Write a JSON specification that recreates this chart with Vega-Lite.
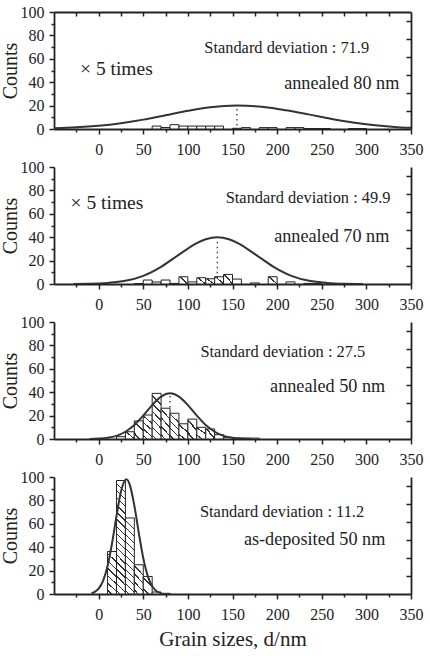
{
"$schema": "https://vega.github.io/schema/vega-lite/v6.json",
"background": "white",
"padding": {"left": 0, "top": 4, "right": 5, "bottom": 5},
"spacing": 2,
"config": {
  "font": "Liberation Serif",
  "view": {"stroke": null},
  "axis": {"grid": false, "domain": true, "ticks": true, "labelFont": "Liberation Serif", "titleFont": "Liberation Serif", "labelFontSize": 16, "titleFontSize": 20, "titleFontWeight": "normal", "labelColor": "#222", "titleColor": "#222", "domainColor": "#222", "tickColor": "#222", "domainWidth": 1.8, "tickWidth": 1.5, "zindex": 2},
  "text": {"font": "Liberation Serif", "color": "#222"}
},
"datasets": {
  "bars1": [{"b0":60,"b1":70,"count":2.5},{"b0":70,"b1":80,"count":1.3},{"b0":80,"b1":90,"count":3.7},{"b0":90,"b1":100,"count":2.5},{"b0":100,"b1":110,"count":2.5},{"b0":110,"b1":120,"count":2.5},{"b0":120,"b1":130,"count":2.5},{"b0":130,"b1":140,"count":2.5},{"b0":150,"b1":160,"count":0.6},{"b0":160,"b1":170,"count":1.2},{"b0":180,"b1":190,"count":1.2},{"b0":190,"b1":200,"count":1.2},{"b0":210,"b1":220,"count":1.2},{"b0":220,"b1":230,"count":1.2},{"b0":230,"b1":240,"count":0.4},{"b0":240,"b1":250,"count":0.4},{"b0":250,"b1":260,"count":0.4},{"b0":280,"b1":290,"count":0.4},{"b0":290,"b1":300,"count":0.4}],
  "bars2": [{"b0":40,"b1":50,"count":0.3},{"b0":50,"b1":60,"count":3.4},{"b0":60,"b1":70,"count":1.7},{"b0":70,"b1":80,"count":3.4},{"b0":80,"b1":90,"count":0.5},{"b0":90,"b1":100,"count":6.2},{"b0":100,"b1":110,"count":1.8},{"b0":110,"b1":120,"count":5.4},{"b0":120,"b1":130,"count":4.5},{"b0":130,"b1":140,"count":6.2},{"b0":140,"b1":150,"count":8.2},{"b0":150,"b1":160,"count":4.2},{"b0":170,"b1":180,"count":0.9},{"b0":190,"b1":200,"count":6.2},{"b0":210,"b1":220,"count":1.8},{"b0":230,"b1":240,"count":0.5},{"b0":240,"b1":250,"count":0.5}],
  "bars3": [{"b0":20,"b1":30,"count":2},{"b0":30,"b1":40,"count":6.2},{"b0":40,"b1":50,"count":15.5},{"b0":50,"b1":60,"count":20.5},{"b0":60,"b1":70,"count":39},{"b0":70,"b1":80,"count":26.3},{"b0":80,"b1":90,"count":22},{"b0":90,"b1":100,"count":13},{"b0":100,"b1":110,"count":17},{"b0":110,"b1":120,"count":10},{"b0":120,"b1":130,"count":8.6},{"b0":130,"b1":140,"count":3.7},{"b0":140,"b1":150,"count":1.4},{"b0":150,"b1":160,"count":0.8},{"b0":160,"b1":170,"count":0.8},{"b0":170,"b1":180,"count":0.8}],
  "bars4": [{"b0":10,"b1":20,"count":36.3},{"b0":20,"b1":30,"count":97},{"b0":30,"b1":40,"count":65},{"b0":40,"b1":50,"count":25},{"b0":50,"b1":60,"count":15},{"b0":60,"b1":70,"count":1.7},{"b0":70,"b1":80,"count":0.6}],
  "curve1": [{"x":-50,"y":0.6},{"x":-25,"y":1.4},{"x":0,"y":2.8},{"x":25,"y":5},{"x":50,"y":8},{"x":75,"y":11.8},{"x":100,"y":15.6},{"x":125,"y":18.6},{"x":155,"y":20},{"x":185,"y":18.8},{"x":210,"y":16},{"x":235,"y":12.5},{"x":260,"y":8.8},{"x":285,"y":5.6},{"x":310,"y":3.2},{"x":335,"y":1.6},{"x":350,"y":1.0}],
  "curve2": [{"x":-28,"y":0.1},{"x":-10,"y":0.23},{"x":10,"y":0.9},{"x":30,"y":2.7},{"x":50,"y":7},{"x":70,"y":14.7},{"x":90,"y":25.1},{"x":110,"y":35},{"x":120,"y":38.3},{"x":133,"y":40},{"x":146,"y":38.3},{"x":156,"y":35},{"x":176,"y":25.1},{"x":196,"y":14.7},{"x":216,"y":7},{"x":236,"y":2.7},{"x":256,"y":0.9},{"x":276,"y":0.23},{"x":296,"y":0.05}],
  "curve3": [{"x":-10,"y":0.1},{"x":0,"y":0.34},{"x":10,"y":1},{"x":20,"y":2.7},{"x":30,"y":6.2},{"x":40,"y":11.9},{"x":50,"y":20},{"x":60,"y":29},{"x":70,"y":36.2},{"x":80,"y":39},{"x":90,"y":36.2},{"x":100,"y":29},{"x":110,"y":20},{"x":120,"y":11.9},{"x":130,"y":6.2},{"x":140,"y":2.7},{"x":150,"y":1},{"x":160,"y":0.34},{"x":170,"y":0.1}],
  "curve4": [{"x":-8,"y":0.75},{"x":-5,"y":1.5},{"x":0,"y":4.5},{"x":5,"y":11.2},{"x":10,"y":23.9},{"x":15,"y":43.2},{"x":20,"y":66.5},{"x":25,"y":87.3},{"x":31,"y":98},{"x":35,"y":93.1},{"x":40,"y":75.6},{"x":45,"y":52.3},{"x":50,"y":30.8},{"x":55,"y":15.5},{"x":60,"y":6.6},{"x":65,"y":2.4},{"x":70,"y":0.75}],
  "rule1": [{"x":155,"y":3,"y2":17}],
  "rule2": [{"x":133,"y":5,"y2":39}],
  "rule3": [{"x":80,"y":27,"y2":38}]
},
"vconcat": [
{
  "width": 357, "height": 117,
  "resolve": {"axis": {"x": "independent", "y": "independent"}},
  "layer": [
    {"data": {"name": "bars1"},
     "mark": {"type": "bar", "fill": "#fff", "stroke": "#222", "strokeWidth": 1},
     "encoding": {
       "x": {"field": "b0", "type": "quantitative", "scale": {"domain": [-50, 350], "nice": false, "zero": false},
             "axis": {"orient": "bottom", "values": [0,50,100,150,200,250,300,350], "tickSize": 5, "labelFlush": false, "labelOverlap": false, "labelPadding": 7, "title": null}},
       "x2": {"field": "b1"},
       "y": {"field": "count", "type": "quantitative", "scale": {"domain": [0, 100], "nice": false},
             "axis": {"orient": "left", "values": [0,20,40,60,80,100], "tickSize": 5, "labelOverlap": false, "labelPadding": 5, "title": "Counts", "titlePadding": 0}},
       "y2": {"datum": 0}
     }},
    {"data": {"name": "curve1"},
     "mark": {"type": "line", "stroke": "#333", "strokeWidth": 2, "interpolate": "monotone", "clip": true},
     "encoding": {
       "x": {"field": "x", "type": "quantitative", "scale": {"domain": [-50, 350], "nice": false, "zero": false},
             "axis": {"orient": "bottom", "values": [-25,25,75,125,175,225,275,325], "labels": false, "tickSize": 3, "domain": false, "title": null}},
       "y": {"field": "y", "type": "quantitative", "scale": {"domain": [0, 100], "nice": false},
             "axis": {"orient": "left", "values": [10,30,50,70,90], "labels": false, "tickSize": 3, "domain": false, "title": null}}
     }},
    {"data": {"name": "rule1"},
     "mark": {"type": "rule", "stroke": "#333", "strokeWidth": 1.3, "strokeDash": [1.5, 3.5]},
     "encoding": {
       "x": {"field": "x", "type": "quantitative", "scale": {"domain": [-50, 350], "nice": false, "zero": false},
             "axis": {"orient": "top", "values": [-25,0,25,50,75,100,125,150,175,200,225,250,275,300,325], "labels": false, "tickSize": -4, "title": null}},
       "y": {"field": "y", "type": "quantitative", "scale": {"domain": [0, 100], "nice": false},
             "axis": {"orient": "right", "values": [15.4,30.8,46.2,61.6,77,92.4], "labels": false, "tickSize": -5, "title": null}},
       "y2": {"field": "y2"}
     }},
    {"data": {"values": [{}]}, "mark": {"type": "text", "text": "Standard deviation : 71.9", "fontSize": 16.4, "align": "center", "baseline": "alphabetic"},
     "encoding": {"x": {"datum": 210.7, "type": "quantitative", "axis": null}, "y": {"datum": 64.7, "type": "quantitative", "axis": null}}},
    {"data": {"values": [{}]}, "mark": {"type": "text", "text": "annealed 80 nm", "fontSize": 18.2, "align": "center", "baseline": "alphabetic"},
     "encoding": {"x": {"datum": 272.4, "type": "quantitative", "axis": null}, "y": {"datum": 34.2, "type": "quantitative", "axis": null}}},
    {"data": {"values": [{}]}, "mark": {"type": "text", "text": "× 5 times", "fontSize": 19.5, "align": "center", "baseline": "alphabetic"},
     "encoding": {"x": {"datum": 19.9, "type": "quantitative", "axis": null}, "y": {"datum": 46, "type": "quantitative", "axis": null}}}
  ]
},
{
  "width": 357, "height": 117,
  "resolve": {"axis": {"x": "independent", "y": "independent"}},
  "layer": [
    {"data": {"name": "bars2"},
     "mark": {"type": "bar", "fill": "#fff", "stroke": "#222", "strokeWidth": 1},
     "encoding": {
       "x": {"field": "b0", "type": "quantitative", "scale": {"domain": [-50, 350], "nice": false, "zero": false},
             "axis": {"orient": "bottom", "values": [0,50,100,150,200,250,300,350], "tickSize": 5, "labelFlush": false, "labelOverlap": false, "labelPadding": 7, "title": null}},
       "x2": {"field": "b1"},
       "y": {"field": "count", "type": "quantitative", "scale": {"domain": [0, 100], "nice": false},
             "axis": {"orient": "left", "values": [0,20,40,60,80,100], "tickSize": 5, "labelOverlap": false, "labelPadding": 5, "title": "Counts", "titlePadding": 0}},
       "y2": {"datum": 0},
       "fill": {"condition": [
         {"test": "datum.count >= 4.4", "value": {"gradient": "linear", "x1": 0, "y1": 1, "x2": 1.1, "y2": 0, "stops": [{"offset":0,"color":"#fff"},{"offset":0.45,"color":"#fff"},{"offset":0.45,"color":"#333"},{"offset":0.55,"color":"#333"},{"offset":0.55,"color":"#fff"},{"offset":1,"color":"#fff"}]}}
       ], "value": "#fff"}
     }},
    {"data": {"name": "curve2"},
     "mark": {"type": "line", "stroke": "#333", "strokeWidth": 2, "interpolate": "monotone", "clip": true},
     "encoding": {
       "x": {"field": "x", "type": "quantitative", "scale": {"domain": [-50, 350], "nice": false, "zero": false},
             "axis": {"orient": "bottom", "values": [-25,25,75,125,175,225,275,325], "labels": false, "tickSize": 3, "domain": false, "title": null}},
       "y": {"field": "y", "type": "quantitative", "scale": {"domain": [0, 100], "nice": false},
             "axis": {"orient": "left", "values": [10,30,50,70,90], "labels": false, "tickSize": 3, "domain": false, "title": null}}
     }},
    {"data": {"name": "rule2"},
     "mark": {"type": "rule", "stroke": "#333", "strokeWidth": 1.3, "strokeDash": [1.5, 3.5]},
     "encoding": {
       "x": {"field": "x", "type": "quantitative", "scale": {"domain": [-50, 350], "nice": false, "zero": false}, "axis": null},
       "y": {"field": "y", "type": "quantitative", "scale": {"domain": [0, 100], "nice": false},
             "axis": {"orient": "right", "values": [15.4,30.8,46.2,61.6,77,92.4], "labels": false, "tickSize": -5, "title": null}},
       "y2": {"field": "y2"}
     }},
    {"data": {"values": [{}]}, "mark": {"type": "text", "text": "Standard deviation : 49.9", "fontSize": 16.4, "align": "center", "baseline": "alphabetic"},
     "encoding": {"x": {"datum": 234.7, "type": "quantitative", "axis": null}, "y": {"datum": 69, "type": "quantitative", "axis": null}}},
    {"data": {"values": [{}]}, "mark": {"type": "text", "text": "annealed 70 nm", "fontSize": 18.2, "align": "center", "baseline": "alphabetic"},
     "encoding": {"x": {"datum": 261.2, "type": "quantitative", "axis": null}, "y": {"datum": 35.8, "type": "quantitative", "axis": null}}},
    {"data": {"values": [{}]}, "mark": {"type": "text", "text": "× 5 times", "fontSize": 19.5, "align": "center", "baseline": "alphabetic"},
     "encoding": {"x": {"datum": 9.3, "type": "quantitative", "axis": null}, "y": {"datum": 64, "type": "quantitative", "axis": null}}}
  ]
},
{
  "width": 357, "height": 117,
  "resolve": {"axis": {"x": "independent", "y": "independent"}},
  "layer": [
    {"data": {"name": "bars3"},
     "mark": {"type": "bar", "fill": "#fff", "stroke": "#222", "strokeWidth": 1},
     "encoding": {
       "x": {"field": "b0", "type": "quantitative", "scale": {"domain": [-50, 350], "nice": false, "zero": false},
             "axis": {"orient": "bottom", "values": [0,50,100,150,200,250,300,350], "tickSize": 5, "labelFlush": false, "labelOverlap": false, "labelPadding": 7, "title": null}},
       "x2": {"field": "b1"},
       "y": {"field": "count", "type": "quantitative", "scale": {"domain": [0, 100], "nice": false},
             "axis": {"orient": "left", "values": [0,20,40,60,80,100], "tickSize": 5, "labelOverlap": false, "labelPadding": 5, "title": "Counts", "titlePadding": 0}},
       "y2": {"datum": 0},
       "fill": {"condition": [
         {"test": "datum.count >= 30", "value": {"gradient": "linear", "x1": 0, "y1": 1, "x2": 0.2, "y2": 0, "stops": [{"offset":0,"color":"#fff"},{"offset":0.0667,"color":"#fff"},{"offset":0.0667,"color":"#333"},{"offset":0.1,"color":"#333"},{"offset":0.1,"color":"#fff"},{"offset":0.2333,"color":"#fff"},{"offset":0.2333,"color":"#333"},{"offset":0.2667,"color":"#333"},{"offset":0.2667,"color":"#fff"},{"offset":0.4,"color":"#fff"},{"offset":0.4,"color":"#333"},{"offset":0.4333,"color":"#333"},{"offset":0.4333,"color":"#fff"},{"offset":0.5667,"color":"#fff"},{"offset":0.5667,"color":"#333"},{"offset":0.6,"color":"#333"},{"offset":0.6,"color":"#fff"},{"offset":0.7333,"color":"#fff"},{"offset":0.7333,"color":"#333"},{"offset":0.7667,"color":"#333"},{"offset":0.7667,"color":"#fff"},{"offset":0.9,"color":"#fff"},{"offset":0.9,"color":"#333"},{"offset":0.9333,"color":"#333"},{"offset":0.9333,"color":"#fff"},{"offset":1,"color":"#fff"}]}},
         {"test": "datum.count >= 18", "value": {"gradient": "linear", "x1": 0, "y1": 1, "x2": 0.33, "y2": 0, "stops": [{"offset":0,"color":"#fff"},{"offset":0.1,"color":"#fff"},{"offset":0.1,"color":"#333"},{"offset":0.15,"color":"#333"},{"offset":0.15,"color":"#fff"},{"offset":0.35,"color":"#fff"},{"offset":0.35,"color":"#333"},{"offset":0.4,"color":"#333"},{"offset":0.4,"color":"#fff"},{"offset":0.6,"color":"#fff"},{"offset":0.6,"color":"#333"},{"offset":0.65,"color":"#333"},{"offset":0.65,"color":"#fff"},{"offset":0.85,"color":"#fff"},{"offset":0.85,"color":"#333"},{"offset":0.9,"color":"#333"},{"offset":0.9,"color":"#fff"},{"offset":1,"color":"#fff"}]}},
         {"test": "datum.count >= 10", "value": {"gradient": "linear", "x1": 0, "y1": 1, "x2": 0.52, "y2": 0, "stops": [{"offset":0,"color":"#fff"},{"offset":0.205,"color":"#fff"},{"offset":0.205,"color":"#333"},{"offset":0.295,"color":"#333"},{"offset":0.295,"color":"#fff"},{"offset":0.705,"color":"#fff"},{"offset":0.705,"color":"#333"},{"offset":0.795,"color":"#333"},{"offset":0.795,"color":"#fff"},{"offset":1,"color":"#fff"}]}},
         {"test": "datum.count >= 4.4", "value": {"gradient": "linear", "x1": 0, "y1": 1, "x2": 1.1, "y2": 0, "stops": [{"offset":0,"color":"#fff"},{"offset":0.45,"color":"#fff"},{"offset":0.45,"color":"#333"},{"offset":0.55,"color":"#333"},{"offset":0.55,"color":"#fff"},{"offset":1,"color":"#fff"}]}}
       ], "value": "#fff"}
     }},
    {"data": {"name": "curve3"},
     "mark": {"type": "line", "stroke": "#333", "strokeWidth": 2, "interpolate": "monotone", "clip": true},
     "encoding": {
       "x": {"field": "x", "type": "quantitative", "scale": {"domain": [-50, 350], "nice": false, "zero": false},
             "axis": {"orient": "bottom", "values": [-25,25,75,125,175,225,275,325], "labels": false, "tickSize": 3, "domain": false, "title": null}},
       "y": {"field": "y", "type": "quantitative", "scale": {"domain": [0, 100], "nice": false},
             "axis": {"orient": "left", "values": [10,30,50,70,90], "labels": false, "tickSize": 3, "domain": false, "title": null}}
     }},
    {"data": {"name": "rule3"},
     "mark": {"type": "rule", "stroke": "#333", "strokeWidth": 1.3, "strokeDash": [1.5, 3.5]},
     "encoding": {
       "x": {"field": "x", "type": "quantitative", "scale": {"domain": [-50, 350], "nice": false, "zero": false}, "axis": null},
       "y": {"field": "y", "type": "quantitative", "scale": {"domain": [0, 100], "nice": false},
             "axis": {"orient": "right", "values": [15.4,30.8,46.2,61.6,77,92.4], "labels": false, "tickSize": -5, "title": null}},
       "y2": {"field": "y2"}
     }},
    {"data": {"values": [{}]}, "mark": {"type": "text", "text": "Standard deviation : 27.5", "fontSize": 16.4, "align": "center", "baseline": "alphabetic"},
     "encoding": {"x": {"datum": 206.4, "type": "quantitative", "axis": null}, "y": {"datum": 69.9, "type": "quantitative", "axis": null}}},
    {"data": {"values": [{}]}, "mark": {"type": "text", "text": "annealed 50 nm", "fontSize": 18.2, "align": "center", "baseline": "alphabetic"},
     "encoding": {"x": {"datum": 256.6, "type": "quantitative", "axis": null}, "y": {"datum": 40, "type": "quantitative", "axis": null}}}
  ]
},
{
  "width": 357, "height": 117,
  "resolve": {"axis": {"x": "independent", "y": "independent"}},
  "layer": [
    {"data": {"name": "bars4"},
     "mark": {"type": "bar", "fill": "#fff", "stroke": "#222", "strokeWidth": 1},
     "encoding": {
       "x": {"field": "b0", "type": "quantitative", "scale": {"domain": [-50, 350], "nice": false, "zero": false},
             "axis": {"orient": "bottom", "values": [0,50,100,150,200,250,300,350], "tickSize": 5, "labelFlush": false, "labelOverlap": false, "labelPadding": 7, "title": "Grain sizes, d/nm", "titleFontSize": 21, "titlePadding": 6}},
       "x2": {"field": "b1"},
       "y": {"field": "count", "type": "quantitative", "scale": {"domain": [0, 100], "nice": false},
             "axis": {"orient": "left", "values": [0,20,40,60,80,100], "tickSize": 5, "labelOverlap": false, "labelPadding": 5, "title": "Counts", "titlePadding": 0}},
       "y2": {"datum": 0},
       "fill": {"condition": [
         {"test": "datum.count >= 80", "value": {"gradient": "linear", "x1": 0, "y1": 1, "x2": 0.079, "y2": 0, "stops": [{"offset":0,"color":"#fff"},{"offset":0.025,"color":"#fff"},{"offset":0.025,"color":"#333"},{"offset":0.0375,"color":"#333"},{"offset":0.0375,"color":"#fff"},{"offset":0.0875,"color":"#fff"},{"offset":0.0875,"color":"#333"},{"offset":0.1,"color":"#333"},{"offset":0.1,"color":"#fff"},{"offset":0.15,"color":"#fff"},{"offset":0.15,"color":"#333"},{"offset":0.1625,"color":"#333"},{"offset":0.1625,"color":"#fff"},{"offset":0.2125,"color":"#fff"},{"offset":0.2125,"color":"#333"},{"offset":0.225,"color":"#333"},{"offset":0.225,"color":"#fff"},{"offset":0.275,"color":"#fff"},{"offset":0.275,"color":"#333"},{"offset":0.2875,"color":"#333"},{"offset":0.2875,"color":"#fff"},{"offset":0.3375,"color":"#fff"},{"offset":0.3375,"color":"#333"},{"offset":0.35,"color":"#333"},{"offset":0.35,"color":"#fff"},{"offset":0.4,"color":"#fff"},{"offset":0.4,"color":"#333"},{"offset":0.4125,"color":"#333"},{"offset":0.4125,"color":"#fff"},{"offset":0.4625,"color":"#fff"},{"offset":0.4625,"color":"#333"},{"offset":0.475,"color":"#333"},{"offset":0.475,"color":"#fff"},{"offset":0.525,"color":"#fff"},{"offset":0.525,"color":"#333"},{"offset":0.5375,"color":"#333"},{"offset":0.5375,"color":"#fff"},{"offset":0.5875,"color":"#fff"},{"offset":0.5875,"color":"#333"},{"offset":0.6,"color":"#333"},{"offset":0.6,"color":"#fff"},{"offset":0.65,"color":"#fff"},{"offset":0.65,"color":"#333"},{"offset":0.6625,"color":"#333"},{"offset":0.6625,"color":"#fff"},{"offset":0.7125,"color":"#fff"},{"offset":0.7125,"color":"#333"},{"offset":0.725,"color":"#333"},{"offset":0.725,"color":"#fff"},{"offset":0.775,"color":"#fff"},{"offset":0.775,"color":"#333"},{"offset":0.7875,"color":"#333"},{"offset":0.7875,"color":"#fff"},{"offset":0.8375,"color":"#fff"},{"offset":0.8375,"color":"#333"},{"offset":0.85,"color":"#333"},{"offset":0.85,"color":"#fff"},{"offset":0.9,"color":"#fff"},{"offset":0.9,"color":"#333"},{"offset":0.9125,"color":"#333"},{"offset":0.9125,"color":"#fff"},{"offset":0.9625,"color":"#fff"},{"offset":0.9625,"color":"#333"},{"offset":0.975,"color":"#333"},{"offset":0.975,"color":"#fff"},{"offset":1,"color":"#fff"}]}},
         {"test": "datum.count >= 50", "value": {"gradient": "linear", "x1": 0, "y1": 1, "x2": 0.117, "y2": 0, "stops": [{"offset":0,"color":"#fff"},{"offset":0.0364,"color":"#fff"},{"offset":0.0364,"color":"#333"},{"offset":0.0545,"color":"#333"},{"offset":0.0545,"color":"#fff"},{"offset":0.1273,"color":"#fff"},{"offset":0.1273,"color":"#333"},{"offset":0.1455,"color":"#333"},{"offset":0.1455,"color":"#fff"},{"offset":0.2182,"color":"#fff"},{"offset":0.2182,"color":"#333"},{"offset":0.2364,"color":"#333"},{"offset":0.2364,"color":"#fff"},{"offset":0.3091,"color":"#fff"},{"offset":0.3091,"color":"#333"},{"offset":0.3273,"color":"#333"},{"offset":0.3273,"color":"#fff"},{"offset":0.4,"color":"#fff"},{"offset":0.4,"color":"#333"},{"offset":0.4182,"color":"#333"},{"offset":0.4182,"color":"#fff"},{"offset":0.4909,"color":"#fff"},{"offset":0.4909,"color":"#333"},{"offset":0.5091,"color":"#333"},{"offset":0.5091,"color":"#fff"},{"offset":0.5818,"color":"#fff"},{"offset":0.5818,"color":"#333"},{"offset":0.6,"color":"#333"},{"offset":0.6,"color":"#fff"},{"offset":0.6727,"color":"#fff"},{"offset":0.6727,"color":"#333"},{"offset":0.6909,"color":"#333"},{"offset":0.6909,"color":"#fff"},{"offset":0.7636,"color":"#fff"},{"offset":0.7636,"color":"#333"},{"offset":0.7818,"color":"#333"},{"offset":0.7818,"color":"#fff"},{"offset":0.8545,"color":"#fff"},{"offset":0.8545,"color":"#333"},{"offset":0.8727,"color":"#333"},{"offset":0.8727,"color":"#fff"},{"offset":0.9455,"color":"#fff"},{"offset":0.9455,"color":"#333"},{"offset":0.9636,"color":"#333"},{"offset":0.9636,"color":"#fff"},{"offset":1,"color":"#fff"}]}},
         {"test": "datum.count >= 30", "value": {"gradient": "linear", "x1": 0, "y1": 1, "x2": 0.2, "y2": 0, "stops": [{"offset":0,"color":"#fff"},{"offset":0.0667,"color":"#fff"},{"offset":0.0667,"color":"#333"},{"offset":0.1,"color":"#333"},{"offset":0.1,"color":"#fff"},{"offset":0.2333,"color":"#fff"},{"offset":0.2333,"color":"#333"},{"offset":0.2667,"color":"#333"},{"offset":0.2667,"color":"#fff"},{"offset":0.4,"color":"#fff"},{"offset":0.4,"color":"#333"},{"offset":0.4333,"color":"#333"},{"offset":0.4333,"color":"#fff"},{"offset":0.5667,"color":"#fff"},{"offset":0.5667,"color":"#333"},{"offset":0.6,"color":"#333"},{"offset":0.6,"color":"#fff"},{"offset":0.7333,"color":"#fff"},{"offset":0.7333,"color":"#333"},{"offset":0.7667,"color":"#333"},{"offset":0.7667,"color":"#fff"},{"offset":0.9,"color":"#fff"},{"offset":0.9,"color":"#333"},{"offset":0.9333,"color":"#333"},{"offset":0.9333,"color":"#fff"},{"offset":1,"color":"#fff"}]}},
         {"test": "datum.count >= 18", "value": {"gradient": "linear", "x1": 0, "y1": 1, "x2": 0.33, "y2": 0, "stops": [{"offset":0,"color":"#fff"},{"offset":0.1,"color":"#fff"},{"offset":0.1,"color":"#333"},{"offset":0.15,"color":"#333"},{"offset":0.15,"color":"#fff"},{"offset":0.35,"color":"#fff"},{"offset":0.35,"color":"#333"},{"offset":0.4,"color":"#333"},{"offset":0.4,"color":"#fff"},{"offset":0.6,"color":"#fff"},{"offset":0.6,"color":"#333"},{"offset":0.65,"color":"#333"},{"offset":0.65,"color":"#fff"},{"offset":0.85,"color":"#fff"},{"offset":0.85,"color":"#333"},{"offset":0.9,"color":"#333"},{"offset":0.9,"color":"#fff"},{"offset":1,"color":"#fff"}]}},
         {"test": "datum.count >= 10", "value": {"gradient": "linear", "x1": 0, "y1": 1, "x2": 0.52, "y2": 0, "stops": [{"offset":0,"color":"#fff"},{"offset":0.205,"color":"#fff"},{"offset":0.205,"color":"#333"},{"offset":0.295,"color":"#333"},{"offset":0.295,"color":"#fff"},{"offset":0.705,"color":"#fff"},{"offset":0.705,"color":"#333"},{"offset":0.795,"color":"#333"},{"offset":0.795,"color":"#fff"},{"offset":1,"color":"#fff"}]}}
       ], "value": "#fff"}
     }},
    {"data": {"name": "curve4"},
     "mark": {"type": "line", "stroke": "#333", "strokeWidth": 2, "interpolate": "monotone", "clip": true},
     "encoding": {
       "x": {"field": "x", "type": "quantitative", "scale": {"domain": [-50, 350], "nice": false, "zero": false},
             "axis": {"orient": "bottom", "values": [-25,25,75,125,175,225,275,325], "labels": false, "tickSize": 3, "domain": false, "title": null}},
       "y": {"field": "y", "type": "quantitative", "scale": {"domain": [0, 100], "nice": false},
             "axis": {"orient": "left", "values": [10,30,50,70,90], "labels": false, "tickSize": 3, "domain": false, "title": null}}
     }},
    {"data": {"values": [{}]}, "mark": {"type": "text", "text": "Standard deviation : 11.2", "fontSize": 16.4, "align": "center", "baseline": "alphabetic"},
     "encoding": {"x": {"datum": 205.5, "type": "quantitative", "axis": null}, "y": {"datum": 66, "type": "quantitative", "axis": {"orient": "right", "values": [15.4,30.8,46.2,61.6,77,92.4], "labels": false, "tickSize": -5, "title": null}}}},
    {"data": {"values": [{}]}, "mark": {"type": "text", "text": "as-deposited 50 nm", "fontSize": 18.2, "align": "center", "baseline": "alphabetic"},
     "encoding": {"x": {"datum": 242, "type": "quantitative", "axis": null}, "y": {"datum": 42, "type": "quantitative", "axis": null}}}
  ]
}
]
}
